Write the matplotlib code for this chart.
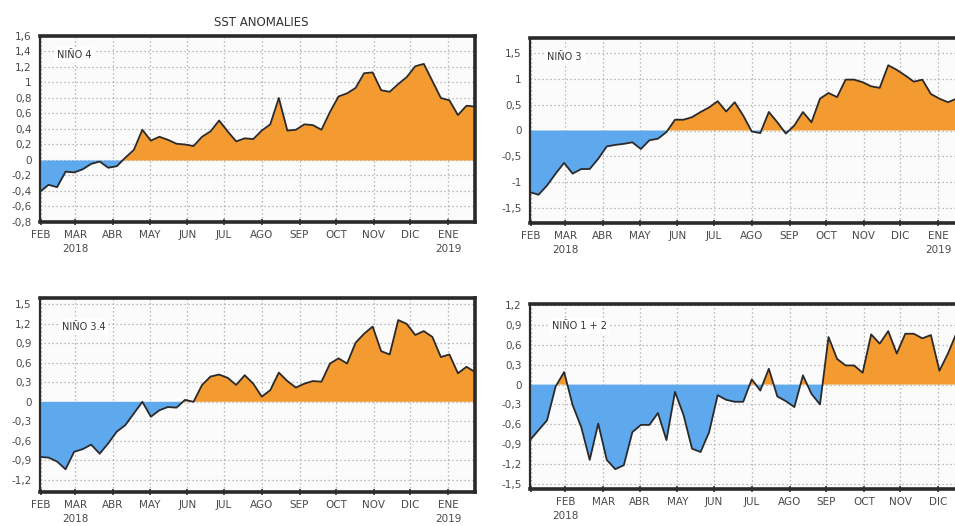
import matplotlib
matplotlib.use("Agg")
import matplotlib.pyplot as plt
import numpy as np
import pandas as pd

plt.rcParams['font.family'] = ['DejaVu Sans']

# Weekly SST anomalies (°C), weeks centred on Wednesday
weeks = pd.date_range('2018-01-31', periods=52, freq='7D')

nino4 = [-0.41, -0.32, -0.35, -0.15, -0.16, -0.12, -0.05, -0.02, -0.10, -0.08,
         0.03, 0.13, 0.39, 0.25, 0.30, 0.26, 0.21, 0.20, 0.18, 0.30,
         0.37, 0.51, 0.37, 0.24, 0.28, 0.27, 0.38, 0.46, 0.80, 0.38,
         0.39, 0.46, 0.45, 0.39, 0.62, 0.82, 0.86, 0.93, 1.12, 1.13,
         0.90, 0.88, 0.98, 1.07, 1.21, 1.24, 1.02, 0.80, 0.77, 0.58,
         0.70, 0.69]

nino3 = [-1.20, -1.25, -1.07, -0.84, -0.63, -0.84, -0.75, -0.75, -0.55, -0.31,
         -0.28, -0.26, -0.23, -0.36, -0.19, -0.16, -0.03, 0.21, 0.21, 0.26,
         0.36, 0.45, 0.57, 0.37, 0.55, 0.29, -0.02, -0.05, 0.36, 0.16,
         -0.06, 0.10, 0.36, 0.16, 0.62, 0.73, 0.65, 0.99, 0.99, 0.94,
         0.86, 0.83, 1.27, 1.18, 1.07, 0.95, 0.99, 0.71, 0.62, 0.55,
         0.62, 0.58]

nino34 = [-0.85, -0.86, -0.92, -1.04, -0.77, -0.73, -0.66, -0.80, -0.64, -0.46,
          -0.36, -0.18, 0.00, -0.23, -0.13, -0.08, -0.09, 0.03, 0.00, 0.26,
          0.39, 0.42, 0.37, 0.26, 0.41, 0.28, 0.08, 0.18, 0.45, 0.32,
          0.22, 0.28, 0.32, 0.31, 0.59, 0.67, 0.59, 0.91, 1.05, 1.16,
          0.78, 0.73, 1.26, 1.20, 1.03, 1.09, 1.00, 0.69, 0.73, 0.44,
          0.54, 0.46]

nino12 = [-0.84, -0.69, -0.54, -0.03, 0.19, -0.31, -0.64, -1.14, -0.59, -1.14,
          -1.28, -1.22, -0.72, -0.61, -0.61, -0.43, -0.84, -0.11, -0.46, -0.97,
          -1.02, -0.72, -0.16, -0.23, -0.26, -0.26, 0.08, -0.09, 0.24, -0.18,
          -0.25, -0.34, 0.14, -0.14, -0.30, 0.72, 0.39, 0.29, 0.29, 0.18,
          0.76, 0.62, 0.81, 0.47, 0.77, 0.77, 0.70, 0.75, 0.21, 0.47,
          0.78, 0.85]

month_ticks = pd.date_range('2018-02-01', periods=12, freq='MS')
month_labels = ['FEB', 'MAR\n2018', 'ABR', 'MAY', 'JUN', 'JUL', 'AGO', 'SEP',
                'OCT', 'NOV', 'DIC', 'ENE\n2019']
month_labels_12 = ['', 'FEB\n2018', 'MAR', 'ABR', 'MAY', 'JUN', 'JUL', 'AGO',
                   'SEP', 'OCT', 'NOV', 'DIC']

ORANGE = '#F39B30'
BLUE = '#5EA8EE'
LINE = '#2a2a2a'
TEXT = '#4a4a4a'

W, H = 955, 526
fig = plt.figure(figsize=(W / 100, H / 100), dpi=100)


def px_axes(left, top, width, height):
    return fig.add_axes([left / W, 1 - (top + height) / H, width / W, height / H])


def fmt(v):
    s = f"{v:.1f}"
    if s.endswith('.0'):
        s = s[:-2]
    if s == '-0':
        s = '0'
    return s.replace('.', ',')


def panel(ax, values, name, ylim, yticks, xlabels, name_xy):
    y = np.array(values)
    ax.set_facecolor('#fbfbfb')
    ax.fill_between(weeks, 0, y, where=y >= 0, interpolate=True,
                    color=ORANGE, lw=0, zorder=2)
    ax.fill_between(weeks, 0, y, where=y <= 0, interpolate=True,
                    color=BLUE, lw=0, zorder=2)
    ax.plot(weeks, y, color=LINE, lw=1.3, zorder=3)
    ax.set_xlim(weeks[0], weeks[-1])
    ax.set_ylim(*ylim)
    ax.set_yticks(yticks)
    ax.set_yticklabels([fmt(v) for v in yticks])
    ax.set_xticks(month_ticks)
    ax.set_xticklabels(xlabels, linespacing=1.45)
    ax.grid(True, color='#a8a8a8', linestyle=(0, (1, 2.2)), linewidth=0.9, zorder=1)
    ax.set_axisbelow(True)
    ax.tick_params(axis='x', direction='inout', length=5, width=1.2, color='#333333',
                   pad=3.5, labelsize=7.5, labelcolor=TEXT)
    ax.tick_params(axis='y', length=0, pad=6, labelsize=7.5, labelcolor=TEXT)
    for side in ('top', 'bottom', 'right'):
        ax.spines[side].set_linewidth(2.6)
        ax.spines[side].set_color('#2a2a2a')
    ax.spines['left'].set_linewidth(1.6)
    ax.spines['left'].set_color('#2a2a2a')
    ax.text(name_xy[0], name_xy[1], name, transform=ax.transAxes, fontsize=7,
            color='#333333', va='center', ha='left', zorder=5,
            bbox=dict(facecolor='white', edgecolor='none', pad=2))


ax1 = px_axes(40, 36, 435, 186)
panel(ax1, nino4, 'NIÑO 4', (-0.8, 1.6), np.round(np.arange(-0.8, 1.61, 0.2), 1),
      month_labels, (0.04, 0.9))

ax2 = px_axes(530, 38, 435, 185)
panel(ax2, nino3, 'NIÑO 3', (-1.8, 1.8), np.round(np.arange(-1.5, 1.51, 0.5), 1),
      month_labels, (0.04, 0.9))

ax3 = px_axes(40, 298, 435, 194)
panel(ax3, nino34, 'NIÑO 3.4', (-1.39, 1.6), np.round(np.arange(-1.2, 1.51, 0.3), 1),
      month_labels, (0.05, 0.85))

ax4 = px_axes(530, 304, 435, 185)
panel(ax4, nino12, 'NIÑO 1 + 2', (-1.58, 1.22), np.round(np.arange(-1.5, 1.21, 0.3), 1),
      month_labels_12, (0.05, 0.88))

fig.text(261 / W, 1 - 22 / H, 'SST ANOMALIES', ha='center', va='center',
         fontsize=8.5, color='#333333')

fig.savefig('out.png', dpi=100)
